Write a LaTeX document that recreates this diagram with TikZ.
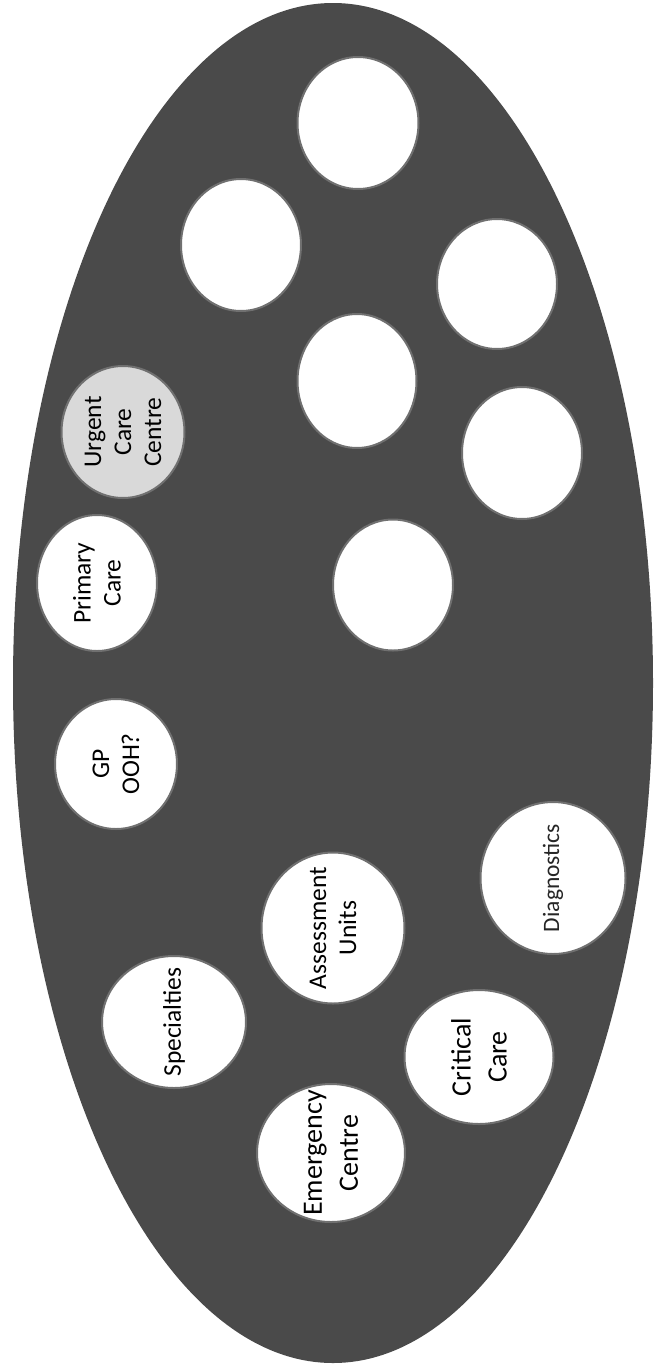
\documentclass[tikz,border=0pt]{standalone}
\usepackage{fontspec}
\setmainfont{Carlito}
\usetikzlibrary{shapes.geometric}

\definecolor{panelgray}{RGB}{74,74,74}
\definecolor{ringgray}{RGB}{112,112,112}
\definecolor{urgentgray}{RGB}{217,217,217}

\begin{document}
\begin{tikzpicture}[x=1pt, y=-1pt,
    spot/.style={ellipse, draw=ringgray, line width=2pt, fill=white, inner sep=0pt},
    spottext/.style={rotate=90, align=center, inner sep=0pt, text=black},
    big/.style={font=\fontsize{28}{36}\selectfont},
    mid/.style={font=\fontsize{25.5}{30}\selectfont},
    small/.style={font=\fontsize{23.5}{28}\selectfont, text=black!85}]

    % 1. Page and the dark ellipse
    \useasboundingbox (0, 0) rectangle (665, 1365);
    \fill[panelgray] (333, 683) ellipse (320 and 680);

    % 2. Empty circles (top part)
    \node[spot, minimum width=121pt, minimum height=132pt] (blankA) at (358, 123) {};
    \node[spot, minimum width=120pt, minimum height=132pt] (blankB) at (241, 245) {};
    \node[spot, minimum width=120pt, minimum height=130pt] (blankC) at (497, 284) {};
    \node[spot, minimum width=119pt, minimum height=134pt] (blankD) at (357, 381) {};
    \node[spot, minimum width=120pt, minimum height=132pt] (blankE) at (522, 453) {};
    \node[spot, minimum width=120pt, minimum height=131pt] (blankF) at (393, 585) {};

    % 3. Circles with a label
    \node[spot, fill=urgentgray, minimum width=123pt, minimum height=132pt] (urgent) at (123, 432) {};
    \node[spot, minimum width=120pt, minimum height=136pt] (primary) at (97, 583) {};
    \node[spot, minimum width=122pt, minimum height=130pt] (gpooh) at (116, 764) {};
    \node[spot, minimum width=145pt, minimum height=152pt] (diagnostics) at (553, 878) {};
    \node[spot, minimum width=143pt, minimum height=151pt] (assessment) at (333, 928) {};
    \node[spot, minimum width=144pt, minimum height=132pt] (specialties) at (174, 1022) {};
    \node[spot, minimum width=149pt, minimum height=134pt] (critical) at (479, 1057) {};
    \node[spot, minimum width=148pt, minimum height=138pt] (emergency) at (331, 1153) {};

    % 4. Labels (read from bottom to top)
    \node[spottext, mid] (urgent-t) at (urgent) {Urgent\\Care\\Centre};
    \node[spottext, mid] (primary-t) at (primary) {Primary\\Care};
    \node[spottext, mid] (gpooh-t) at (gpooh) {GP\\OOH?};
    \node[spottext, small] (diagnostics-t) at (diagnostics) {Diagnostics};
    \node[spottext, mid] (assessment-t) at (assessment) {Assessment\\Units};
    \node[spottext, mid] (specialties-t) at (specialties) {Specialties};
    \node[spottext, big] (critical-t) at (critical) {Critical\\Care};
    \node[spottext, big] (emergency-t) at (emergency) {Emergency\\Centre};

\end{tikzpicture}
\end{document}
